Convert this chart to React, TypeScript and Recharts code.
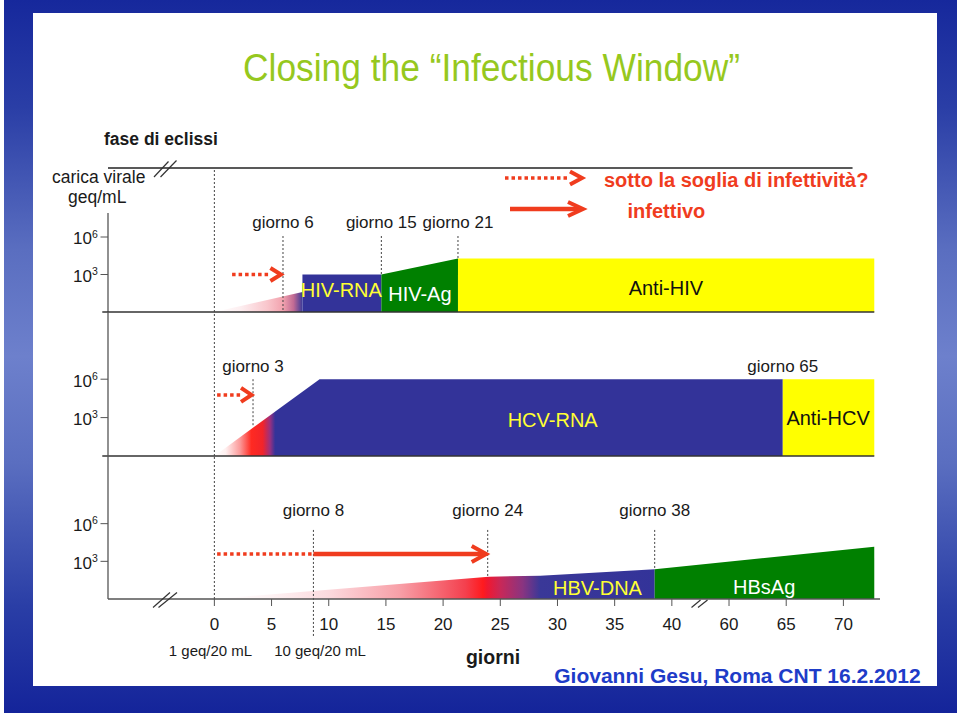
import React from 'react';
import { ComposedChart, Area, XAxis, YAxis, ReferenceLine, ReferenceDot } from 'recharts';

const FONT = '"Liberation Sans", Arial, Helvetica, sans-serif';
const RED = '#f03c1e';
const BLUE = '#333399';
const GREEN = '#008000';
const YELLOW = '#ffff00';
const AXIS = '#555555';
const DOTTED = '#444444';
const TXT = '#1a1a1a';

// ---------- axes ----------
// x positions in days; the axis is broken after 40, so positions 45/50/55 stand for days 60/65/70
const xTickPositions = [0, 5, 10, 15, 20, 25, 30, 35, 40, 45, 50, 55];
const xTickLabels = ['0', '5', '10', '15', '20', '25', '30', '35', '40', '60', '65', '70'];
const yTickValues = [3, 6]; // log10(geq/mL)
const X_DOMAIN: [number, number] = [-9.3, 58.2];

// ---------- HIV ----------
const hivDays = [0, 7.7, 14.6, 21.3, 57.7];
const hivEclipse = [0, 1.6, null, null, null];
const hivRna = [null, 3, 3, null, null];
const hivAg = [null, null, 3, 4.28, null];
const antiHiv = [null, null, null, 4.28, 4.28];
const hivMarkDays = [6, 14.6, 21.3];
const hivMarkLabels = ['giorno 6', 'giorno 15', 'giorno 21'];
const hivMarkBottoms = [0, 3, 4.28];

// ---------- HCV ----------
const hcvDays = [0, 9.2, 49.7, 57.7];
const hcvRna = [0, 6, 6, null];
const antiHcv = [null, null, 6, 6];
const hcvMarkDays = [3.38];
const hcvMarkLabels = ['giorno 3'];
const hcvMarkBottoms = [2.3];

// ---------- HBV ----------
const hbvDays = [0, 24, 28.5, 38.5, 57.7];
const hbvDna = [0, 1.78, 1.85, 2.37, null];
const hbsAg = [null, null, null, 2.37, 4.17];
const hbvMarkDays = [8.66, 23.9, 38.5];
const hbvMarkLabels = ['giorno 8', 'giorno 24', 'giorno 38'];
const hbvMarkBottoms = [-3, 1.78, 2.37];

const hivData = hivDays.map((x, i) => ({ x, eclipse: hivEclipse[i], rna: hivRna[i], ag: hivAg[i], anti: antiHiv[i] }));
const hcvData = hcvDays.map((x, i) => ({ x, rna: hcvRna[i], anti: antiHcv[i] }));
const hbvData = hbvDays.map((x, i) => ({ x, dna: hbvDna[i], ag: hbsAg[i] }));

const renderPowerTick = (props: any) => {
  const { x, y, payload } = props;
  return (
    <g>
      <text x={x - 8.6} y={y + 7.3} textAnchor="end" fontSize={17} fill={TXT} fontFamily={FONT}>10</text>
      <text x={x - 8.4} y={y + 0.8} textAnchor="start" fontSize={10.5} fill={TXT} fontFamily={FONT}>{String(payload.value)}</text>
    </g>
  );
};

const arrowShape = (dotted: boolean, headW: number, headH: number) => (p: any) => {
  const { x1, y1, x2, y2 } = p;
  const hasHead = headW > 0;
  const lineEnd = hasHead ? x2 - (dotted ? headW : 4) : x2;
  return (
    <g>
      <line x1={x1} y1={y1} x2={lineEnd} y2={y2} stroke={RED} strokeWidth={dotted ? 3.5 : 4.5}
        strokeDasharray={dotted ? '3.5 3' : undefined} />
      {hasHead && (
        <polyline points={`${x2 - headW},${y2 - headH} ${x2 - 1.5},${y2} ${x2 - headW},${y2 + headH}`}
          fill="none" stroke={RED} strokeWidth={4} />
      )}
    </g>
  );
};

const areaProps = { type: 'linear' as const, stroke: 'none', fillOpacity: 1, isAnimationActive: false, dot: false, activeDot: false, connectNulls: false };
const markLabel = (value: string, offset: number) => ({ value, position: 'top' as const, offset, fill: TXT, fontSize: 17, fontFamily: FONT });
const innerLabel = (value: string, fill: string) => ({ value, position: 'center' as const, fill, fontSize: 20, fontFamily: FONT });

const xAxisHidden = <XAxis type="number" dataKey="x" domain={X_DOMAIN} allowDataOverflow hide />;

function HivChart() {
  return (
    <ComposedChart width={960} height={180} data={hivData} margin={{ top: 18, right: 80, bottom: 18, left: 48 }}>
      <defs>
        <linearGradient id="gHivEclipse" x1="0" y1="0" x2="1" y2="0">
          <stop offset="0" stopColor="#ffffff" />
          <stop offset="0.3" stopColor="#fdeef0" />
          <stop offset="0.6" stopColor="#f9c6cc" />
          <stop offset="0.78" stopColor="#f2a2ae" />
          <stop offset="0.9" stopColor="#c06a94" />
          <stop offset="1" stopColor="#3c3a98" />
        </linearGradient>
      </defs>
      {xAxisHidden}
      <YAxis type="number" domain={[0, 11.52]} allowDataOverflow ticks={yTickValues} interval={0} width={60}
        axisLine={false} tickLine={{ stroke: AXIS }} tickSize={7.5} tickMargin={0} tick={renderPowerTick} />
      <Area {...areaProps} dataKey="eclipse" fill="url(#gHivEclipse)" />
      <Area {...areaProps} dataKey="rna" fill={BLUE} />
      <Area {...areaProps} dataKey="ag" fill={GREEN} />
      <Area {...areaProps} dataKey="anti" fill={YELLOW} />
      <ReferenceLine segment={[{ x: -9.3, y: 0 }, { x: -9.3, y: 7.92 }]} stroke={AXIS} strokeWidth={1.3} ifOverflow="visible" />
      <ReferenceLine segment={[{ x: -9.3, y: 11.52 }, { x: 55.8, y: 11.52 }]} stroke="#222" strokeWidth={1.3} ifOverflow="visible" />
      <ReferenceLine segment={[{ x: -9.8, y: 0 }, { x: 57.7, y: 0 }]} stroke="#333" strokeWidth={1.5} ifOverflow="visible" />
      <ReferenceLine x={0} stroke={DOTTED} strokeDasharray="2 2" ifOverflow="visible" />
      {hivMarkDays.map((d, i) => (
        <ReferenceLine key={'hm' + i} segment={[{ x: d, y: 6.08 }, { x: d, y: hivMarkBottoms[i] }]} stroke={DOTTED}
          strokeDasharray="2 2" ifOverflow="visible" label={markLabel(hivMarkLabels[i], 8)} />
      ))}
      <ReferenceLine segment={[{ x: 1.55, y: 3 }, { x: 5.95, y: 3 }]} ifOverflow="visible" shape={arrowShape(true, 12, 6.5)} />
      <ReferenceDot x={11.1} y={1.8} r={0.01} fill="none" stroke="none" ifOverflow="visible" label={innerLabel('HIV-RNA', '#ffff33')} />
      <ReferenceDot x={17.97} y={1.46} r={0.01} fill="none" stroke="none" ifOverflow="visible" label={innerLabel('HIV-Ag', '#ffffff')} />
      <ReferenceDot x={39.48} y={1.96} r={0.01} fill="none" stroke="none" ifOverflow="visible" label={innerLabel('Anti-HIV', '#111111')} />
    </ComposedChart>
  );
}

function HcvChart() {
  return (
    <ComposedChart width={960} height={170} data={hcvData} margin={{ top: 12, right: 80, bottom: 14, left: 48 }}>
      <defs>
        <linearGradient id="gHcv" x1="0" y1="0" x2="1" y2="0">
          <stop offset="0" stopColor="#ffffff" />
          <stop offset="0.02" stopColor="#fff0f0" />
          <stop offset="0.045" stopColor="#fb9a9a" />
          <stop offset="0.065" stopColor="#ff2a22" />
          <stop offset="0.085" stopColor="#f2242a" />
          <stop offset="0.098" stopColor="#9a3080" />
          <stop offset="0.107" stopColor={BLUE} />
          <stop offset="1" stopColor={BLUE} />
        </linearGradient>
      </defs>
      {xAxisHidden}
      <YAxis type="number" domain={[0, 11.25]} allowDataOverflow ticks={yTickValues} interval={0} width={60}
        axisLine={{ stroke: AXIS, strokeWidth: 1.3 }} tickLine={{ stroke: AXIS }} tickSize={7.5} tickMargin={0} tick={renderPowerTick} />
      <Area {...areaProps} dataKey="rna" fill="url(#gHcv)" />
      <Area {...areaProps} dataKey="anti" fill={YELLOW} />
      <ReferenceLine segment={[{ x: -9.8, y: 0 }, { x: 57.7, y: 0 }]} stroke="#333" strokeWidth={1.5} ifOverflow="visible" />
      <ReferenceLine x={0} stroke={DOTTED} strokeDasharray="2 2" ifOverflow="visible" />
      {hcvMarkDays.map((d, i) => (
        <ReferenceLine key={'cm' + i} segment={[{ x: d, y: 6 }, { x: d, y: hcvMarkBottoms[i] }]} stroke={DOTTED}
          strokeDasharray="2 2" ifOverflow="visible" label={markLabel(hcvMarkLabels[i], 7)} />
      ))}
      <ReferenceDot x={49.7} y={6} r={0.01} fill="none" stroke="none" ifOverflow="visible" label={markLabel('giorno 65', 7)} />
      <ReferenceLine segment={[{ x: 0.24, y: 4.77 }, { x: 3.38, y: 4.77 }]} ifOverflow="visible" shape={arrowShape(true, 12, 7)} />
      <ReferenceDot x={29.58} y={2.85} r={0.01} fill="none" stroke="none" ifOverflow="visible" label={innerLabel('HCV-RNA', '#ffff33')} />
      <ReferenceDot x={53.66} y={2.95} r={0.01} fill="none" stroke="none" ifOverflow="visible" label={innerLabel('Anti-HCV', '#111111')} />
    </ComposedChart>
  );
}

function HbvChart() {
  return (
    <ComposedChart width={960} height={240} data={hbvData} margin={{ top: 16, right: 80, bottom: 51, left: 48 }}>
      <defs>
        <linearGradient id="gHbv" x1="0" y1="0" x2="1" y2="0">
          <stop offset="0" stopColor="#ffffff" />
          <stop offset="0.12" stopColor="#fef4f5" />
          <stop offset="0.26" stopColor="#fcdade" />
          <stop offset="0.42" stopColor="#f8a0a8" />
          <stop offset="0.57" stopColor="#f4404e" />
          <stop offset="0.61" stopColor="#ff1a1e" />
          <stop offset="0.62" stopColor="#f01830" />
          <stop offset="0.65" stopColor="#c82858" />
          <stop offset="0.7" stopColor="#8a3480" />
          <stop offset="0.74" stopColor="#3a3898" />
          <stop offset="1" stopColor={BLUE} />
        </linearGradient>
      </defs>
      <XAxis type="number" dataKey="x" domain={X_DOMAIN} allowDataOverflow ticks={xTickPositions} interval={0}
        tickFormatter={(v: number) => xTickLabels[xTickPositions.indexOf(v)] ?? ''}
        axisLine={{ stroke: AXIS, strokeWidth: 1.5 }} tickLine={{ stroke: AXIS }} tickSize={7} tickMargin={12}
        tick={{ fill: TXT, fontSize: 17, fontFamily: FONT }} height={30} />
      <YAxis type="number" domain={[0, 11.39]} allowDataOverflow ticks={yTickValues} interval={0} width={60}
        axisLine={{ stroke: AXIS, strokeWidth: 1.3 }} tickLine={{ stroke: AXIS }} tickSize={7.5} tickMargin={0} tick={renderPowerTick} />
      <Area {...areaProps} dataKey="dna" fill="url(#gHbv)" />
      <Area {...areaProps} dataKey="ag" fill={GREEN} />
      <ReferenceLine x={0} stroke={DOTTED} strokeDasharray="2 2" ifOverflow="visible" />
      {hbvMarkDays.map((d, i) => (
        <ReferenceLine key={'bm' + i} segment={[{ x: d, y: 5.5 }, { x: d, y: hbvMarkBottoms[i] }]} stroke={DOTTED}
          strokeDasharray="2 2" ifOverflow="visible" label={markLabel(hbvMarkLabels[i], 14)} />
      ))}
      <ReferenceLine segment={[{ x: 0.24, y: 3.59 }, { x: 8.66, y: 3.59 }]} ifOverflow="visible" shape={arrowShape(true, 0, 0)} />
      <ReferenceLine segment={[{ x: 8.66, y: 3.59 }, { x: 23.9, y: 3.59 }]} ifOverflow="visible" shape={arrowShape(false, 16, 8)} />
      <ReferenceDot x={33.5} y={0.92} r={0.01} fill="none" stroke="none" ifOverflow="visible" label={innerLabel('HBV-DNA', '#ffff33')} />
      <ReferenceDot x={48.07} y={0.98} r={0.01} fill="none" stroke="none" ifOverflow="visible" label={innerLabel('HBsAg', '#ffffff')} />
    </ComposedChart>
  );
}

const FRAME_GRADIENT =
  'linear-gradient(to bottom, #16289c 0%, #2a3ea6 15%, #5a6ec0 35%, #6d80cc 50%, #5a6ec0 65%, #2a3ea6 85%, #14249a 100%)';

export default function App() {
  return (
    <div style={{ position: 'absolute', left: 0, top: 0, width: 960, height: 716, background: '#fff', overflow: 'hidden', fontFamily: FONT }}>
      <div style={{ position: 'absolute', left: 4, top: 0, width: 953, height: 713, background: FRAME_GRADIENT }} />
      <div style={{ position: 'absolute', left: 33, top: 13, width: 904, height: 673, background: '#fff' }} />
      <div style={{ position: 'absolute', left: 0, top: 150 }}><HivChart /></div>
      <div style={{ position: 'absolute', left: 0, top: 300 }}><HcvChart /></div>
      <div style={{ position: 'absolute', left: 0, top: 440 }}><HbvChart /></div>
      <svg width={960} height={716} style={{ position: 'absolute', left: 0, top: 0, pointerEvents: 'none' }} fontFamily={FONT}>
        <text x={491.5} y={81} textAnchor="middle" fontSize={39} fill="#96c81e" textLength={497} lengthAdjust="spacingAndGlyphs">
          Closing the “Infectious Window”
        </text>
        <text x={104} y={145} fontSize={17.5} fontWeight="bold" fill={TXT}>fase di eclissi</text>
        <text x={52} y={183} fontSize={17.5} fill={TXT}>carica virale</text>
        <text x={68} y={202.5} fontSize={17.5} fill={TXT}>geq/mL</text>
        {/* legend */}
        <line x1={505} y1={178} x2={570} y2={178} stroke={RED} strokeWidth={3.5} strokeDasharray="3.5 3" />
        <polyline points="570,171.5 582,178 570,184.5" fill="none" stroke={RED} strokeWidth={4} />
        <text x={604} y={187} fontSize={20} fontWeight="bold" fill={RED}>sotto la soglia di infettività?</text>
        <line x1={510} y1={209} x2={580} y2={209} stroke={RED} strokeWidth={4.5} />
        <polyline points="568,202 583,209 568,216" fill="none" stroke={RED} strokeWidth={4} />
        <text x={627.5} y={217.5} fontSize={20} fontWeight="bold" fill={RED}>infettivo</text>
        {/* axis break marks */}
        <line x1={154} y1={177} x2={168.5} y2={161.5} stroke="#333" strokeWidth={1.2} />
        <line x1={160.5} y1={177} x2={176.5} y2={160.5} stroke="#333" strokeWidth={1.2} />
        <line x1={153} y1={607.5} x2={170} y2={592.5} stroke="#333" strokeWidth={1.2} />
        <line x1={158.5} y1={607.5} x2={177} y2={592.5} stroke="#333" strokeWidth={1.2} />
        <line x1={691.5} y1={607.5} x2={700.5} y2={600} stroke="#333" strokeWidth={1.2} />
        <line x1={698} y1={607.5} x2={707.5} y2={600} stroke="#333" strokeWidth={1.2} />
        {/* x axis notes */}
        <text x={210.5} y={656} textAnchor="middle" fontSize={15} fill={TXT}>1 geq/20 mL</text>
        <text x={320} y={656} textAnchor="middle" fontSize={15} fill={TXT}>10 geq/20 mL</text>
        <text x={493} y={664} textAnchor="middle" fontSize={19.5} fontWeight="bold" fill={TXT}>giorni</text>
        <text x={737.5} y={683} textAnchor="middle" fontSize={21} fontWeight="bold" fill="#1e3cc8">Giovanni Gesu, Roma CNT 16.2.2012</text>
      </svg>
    </div>
  );
}
